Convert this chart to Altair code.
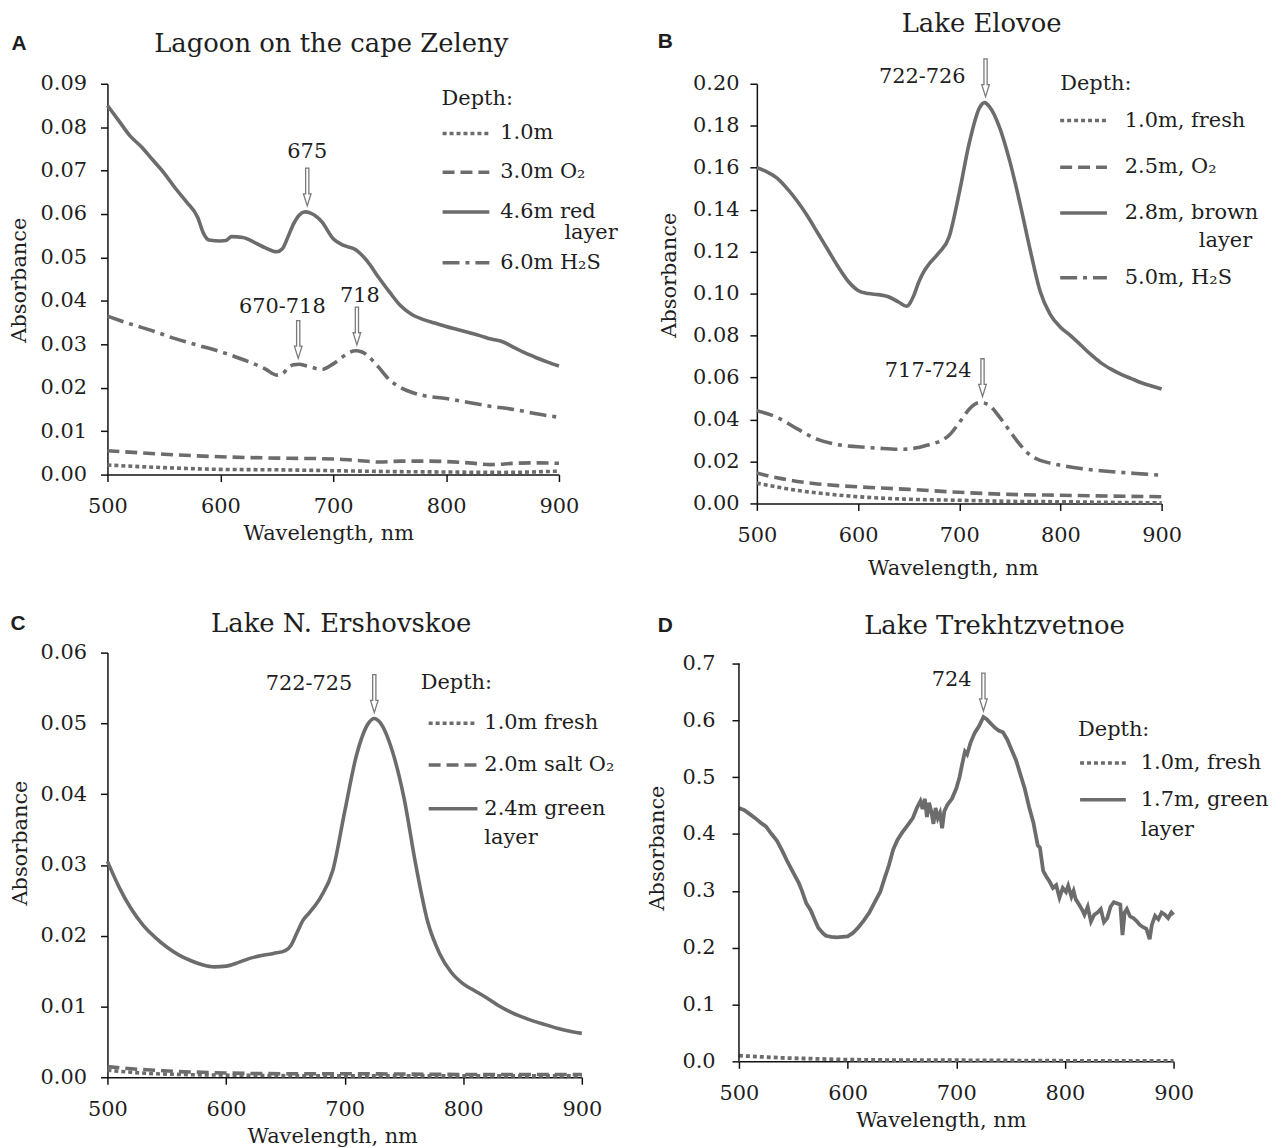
import altair as alt
import pandas as pd

SERIF = "DejaVu Serif"
SANS = "Liberation Sans"
GREY = "#6c6c6c"
INK = "#1e1e1e"

# ---------------- Panel A : Lagoon on the cape Zeleny ----------------
A_FRESH_WL = [500, 550, 600, 650, 700, 750, 800, 850, 900]
A_FRESH = [0.0022, 0.0016, 0.0012, 0.0011, 0.0009, 0.0007, 0.0006, 0.0005, 0.0008]
A_O2_WL = [500, 550, 600, 650, 700, 720, 740, 760, 780, 800, 820, 840, 860, 880, 900]
A_O2 = [0.0055, 0.0047, 0.0041, 0.0038, 0.0036, 0.0033, 0.0029, 0.0031, 0.0031,
        0.0030, 0.0027, 0.0023, 0.0026, 0.0027, 0.0026]
A_RED_WL = [500, 510, 520, 530, 540, 550, 560, 570, 580, 585, 590, 600, 605, 610, 620,
            630, 640, 650, 655, 660, 665, 670, 675, 680, 690, 700, 710, 720, 730, 740,
            750, 760, 770, 780, 790, 800, 810, 820, 830, 840, 850, 860, 870, 880, 890, 900]
A_RED = [0.0850, 0.0815, 0.0780, 0.0755, 0.0725, 0.0695, 0.0660, 0.0628, 0.0592, 0.0556,
         0.0540, 0.0538, 0.0539, 0.0548, 0.0546, 0.0535, 0.0522, 0.0513, 0.0520, 0.0548,
         0.0578, 0.0598, 0.0605, 0.0602, 0.0582, 0.0543, 0.0527, 0.0518, 0.0492, 0.0455,
         0.0420, 0.0388, 0.0368, 0.0357, 0.0349, 0.0341, 0.0334, 0.0327, 0.0320, 0.0312,
         0.0306, 0.0293, 0.0280, 0.0269, 0.0259, 0.0250]
A_H2S_WL = [500, 520, 540, 560, 580, 600, 620, 640, 650, 655, 660, 665, 670, 675, 680,
            690, 700, 710, 715, 720, 725, 730, 740, 750, 760, 770, 780, 800, 820, 840,
            860, 880, 900]
A_H2S = [0.0365, 0.0347, 0.0331, 0.0313, 0.0298, 0.0283, 0.0265, 0.0243, 0.0229, 0.0232,
         0.0246, 0.0253, 0.0254, 0.0251, 0.0248, 0.0242, 0.0255, 0.0274, 0.0282, 0.0285,
         0.0283, 0.0275, 0.0248, 0.0218, 0.0200, 0.0189, 0.0182, 0.0175, 0.0166, 0.0157,
         0.0150, 0.0140, 0.0132]
A_LABELS = ["1.0m", "3.0m O₂", "4.6m red", "6.0m H₂S"]
A_ANN_WL = [677, 669, 721]
A_ANN_Y = [0.0605, 0.0254, 0.0285]
A_ANN_TXT = ["675", "670-718", "718"]

# ---------------- Panel B : Lake Elovoe ----------------
B_FRESH_WL = [500, 520, 540, 560, 580, 600, 650, 700, 750, 800, 850, 900]
B_FRESH = [0.0097, 0.0078, 0.0062, 0.0050, 0.0040, 0.0032, 0.0020, 0.0015, 0.0010,
           0.0008, 0.0005, 0.0003]
B_O2_WL = [500, 520, 540, 560, 580, 600, 650, 700, 750, 800, 850, 900]
B_O2 = [0.0145, 0.0122, 0.0105, 0.0093, 0.0085, 0.0079, 0.0067, 0.0053, 0.0043, 0.0039,
        0.0035, 0.0032]
B_BROWN_WL = [500, 510, 520, 530, 540, 550, 560, 570, 580, 590, 600, 610, 620, 630, 640,
              648, 655, 660, 665, 670, 680, 690, 700, 710, 720, 725, 730, 740, 750, 760,
              770, 780, 790, 800, 810, 820, 830, 840, 850, 860, 870, 880, 890, 900]
B_BROWN = [0.160, 0.158, 0.155, 0.150, 0.144, 0.137, 0.129, 0.121, 0.113, 0.106, 0.1015,
           0.1000, 0.0995, 0.0985, 0.0960, 0.0940, 0.0990, 0.1055, 0.1105, 0.1140, 0.1195,
           0.1270, 0.1480, 0.1720, 0.1885, 0.1910, 0.1890, 0.1790, 0.1630, 0.1430, 0.1210,
           0.1010, 0.0900, 0.0840, 0.0800, 0.0755, 0.0710, 0.0670, 0.0640, 0.0615, 0.0595,
           0.0575, 0.0560, 0.0545]
B_H2S_WL = [500, 520, 540, 560, 580, 600, 620, 640, 650, 660, 670, 680, 690, 700, 710,
            715, 720, 725, 730, 740, 750, 760, 770, 780, 790, 800, 820, 840, 860, 880, 900]
B_H2S = [0.0442, 0.0410, 0.0355, 0.0305, 0.0280, 0.0270, 0.0263, 0.0258, 0.0259, 0.0267,
         0.0280, 0.0295, 0.0325, 0.0385, 0.0450, 0.0472, 0.0481, 0.0478, 0.0466, 0.0410,
         0.0345, 0.0280, 0.0230, 0.0205, 0.0192, 0.0182, 0.0166, 0.0156, 0.0148, 0.0141,
         0.0134]
B_LABELS = ["1.0m, fresh", "2.5m, O₂", "2.8m, brown", "5.0m, H₂S"]
B_ANN_WL = [726, 723]
B_ANN_Y = [0.191, 0.0481]
B_ANN_TXT = ["722-726", "717-724"]

# ---------------- Panel C : Lake N. Ershovskoe ----------------
C_FRESH_WL = [500, 520, 540, 560, 600, 700, 800, 900]
C_FRESH = [0.0010, 0.0007, 0.0005, 0.0004, 0.0003, 0.0002, 0.0002, 0.0002]
C_O2_WL = [500, 520, 540, 560, 580, 600, 650, 700, 800, 900]
C_O2 = [0.0015, 0.0012, 0.0010, 0.0008, 0.0007, 0.0006, 0.0005, 0.0005, 0.0004, 0.0004]
C_GREEN_WL = [500, 510, 520, 530, 540, 550, 560, 570, 580, 590, 600, 610, 620, 630, 640,
              650, 655, 660, 665, 670, 680, 690, 700, 710, 720, 725, 730, 740, 750, 760,
              770, 780, 790, 800, 810, 820, 830, 840, 850, 860, 870, 880, 890, 900]
C_GREEN = [0.0305, 0.0268, 0.0238, 0.0215, 0.0198, 0.0184, 0.0173, 0.0165, 0.0159, 0.0156,
           0.0157, 0.0162, 0.0168, 0.0172, 0.0175, 0.0179, 0.0187, 0.0205, 0.0222, 0.0232,
           0.0255, 0.0292, 0.0375, 0.0455, 0.0500, 0.0507, 0.0501, 0.0462, 0.0395, 0.0300,
           0.0220, 0.0175, 0.0148, 0.0132, 0.0122, 0.0112, 0.0101, 0.0092, 0.0085, 0.0079,
           0.0074, 0.0069, 0.0065, 0.0062]
C_LABELS = ["1.0m fresh", "2.0m salt O₂", "2.4m green"]
C_ANN_WL = [725]
C_ANN_Y = [0.0507]
C_ANN_TXT = ["722-725"]

# ---------------- Panel D : Lake Trekhtzvetnoe ----------------
D_FRESH_WL = [500, 520, 540, 560, 580, 600, 650, 700, 800, 900]
D_FRESH = [0.010, 0.008, 0.006, 0.005, 0.004, 0.003, 0.002, 0.002, 0.001, 0.001]
D_GREEN_WL = [500, 505, 510, 515, 520, 525, 530, 535, 540, 545, 550, 555, 558, 562, 566,
              570, 573, 577, 580, 585, 590, 595, 600, 605, 610, 615, 620, 625, 630, 634,
              638, 642, 646, 650, 655, 660, 664, 667, 669, 671, 673, 675, 677, 679, 681,
              683, 685, 687, 689, 692, 696, 700, 703, 706, 708, 710, 713, 717, 721, 725,
              728, 731, 735, 739, 743, 747, 751, 755, 759, 763, 767, 771, 775, 777, 780,
              783, 786, 789, 792, 795, 798, 801, 803, 806, 808, 810, 813, 816, 818, 821,
              824, 827, 830, 833, 836, 839, 842, 845, 848, 851, 853, 855, 857, 860, 863,
              866, 869, 872, 875, 878, 880, 883, 886, 889, 892, 895, 898, 900]
D_GREEN = [0.446, 0.442, 0.435, 0.428, 0.420, 0.413, 0.400, 0.388, 0.370, 0.350, 0.332,
           0.314, 0.300, 0.278, 0.266, 0.248, 0.235, 0.226, 0.221, 0.219, 0.218, 0.219,
           0.220, 0.226, 0.236, 0.248, 0.262, 0.280, 0.298, 0.322, 0.345, 0.373, 0.390,
           0.402, 0.415, 0.428, 0.447, 0.458, 0.444, 0.462, 0.430, 0.455, 0.440, 0.418,
           0.446, 0.428, 0.437, 0.410, 0.440, 0.452, 0.462, 0.480, 0.500, 0.528, 0.545,
           0.540, 0.560, 0.578, 0.590, 0.606, 0.602, 0.596, 0.588, 0.582, 0.579, 0.566,
           0.548, 0.530, 0.505, 0.480, 0.448, 0.420, 0.380, 0.376, 0.335, 0.325, 0.316,
           0.305, 0.310, 0.288, 0.305, 0.298, 0.309, 0.290, 0.300, 0.285, 0.276, 0.266,
           0.258, 0.272, 0.246, 0.258, 0.262, 0.268, 0.245, 0.252, 0.272, 0.280, 0.278,
           0.276, 0.222, 0.262, 0.268, 0.255, 0.252, 0.247, 0.240, 0.236, 0.233, 0.215,
           0.240, 0.256, 0.250, 0.262, 0.258, 0.252, 0.262, 0.258]
D_LABELS = ["1.0m, fresh", "1.7m, green"]
D_ANN_WL = [725]
D_ANN_Y = [0.606]
D_ANN_TXT = ["724"]

X_TICKS = [500, 600, 700, 800, 900]

# ---------------- styles ----------------
DOTTED = [4, 3]
DASHED = [12, 6]
SOLID = None
DASHDOT = [17, 6, 4, 6]
ARROW = "M-0.085,-1L0.085,-1L0.085,0.36L0.2,0.36L0,1L-0.2,0.36L-0.085,0.36Z"
ONE = pd.DataFrame({"k": [0]})


def txt(t, x, y, size=21, align="left", font=SERIF, weight="normal", baseline="middle"):
    return alt.Chart(ONE).mark_text(
        text=t, align=align, baseline=baseline, font=font, fontSize=size,
        fontWeight=weight, color=INK
    ).encode(x=alt.value(x), y=alt.value(y))


def sym(x1, x2, y, dash, width=3.6):
    kw = dict(color=GREY, strokeWidth=width)
    if dash is not None:
        kw["strokeDash"] = dash
    return alt.Chart(ONE).mark_rule(**kw).encode(
        x=alt.value(x1), x2=alt.value(x2), y=alt.value(y))


def panel(p):
    xenc = alt.X(
        "wl:Q", title="Wavelength, nm",
        scale=alt.Scale(domain=[500, 900], nice=False, zero=False),
        axis=alt.Axis(values=X_TICKS, format="d", labelPadding=p["xlp"],
                      labelFlush=False, labelOverlap=False,
                      titleX=p["xtitle"][0], titleY=p["xtitle"][1],
                      titleAlign="center", titleBaseline="middle"))
    yaxis = dict(values=p["yvals"], format=p["yfmt"], labelPadding=p["ylp"],
                 labelOverlap=False, titleX=p["ytitle"][0], titleY=p["ytitle"][1],
                 titleAngle=270, titleAlign="center", titleBaseline="middle")
    if not p.get("ydomainline", True):
        yaxis["domain"] = False
    yenc = alt.Y("abs:Q", title="Absorbance",
                 scale=alt.Scale(domain=p["ydom"], nice=False, zero=False),
                 axis=alt.Axis(**yaxis))

    layers = []
    for (wl, vals), dash in zip(p["curves"], p["dashes"]):
        kw = dict(color=GREY, strokeWidth=p.get("lw", 3.6), interpolate=p["interp"])
        if dash is not None:
            kw["strokeDash"] = dash
        layers.append(
            alt.Chart(pd.DataFrame({"wl": wl, "abs": vals}))
            .mark_line(**kw).encode(x=xenc, y=yenc))

    if not p.get("ydomainline", True):
        layers.append(
            alt.Chart(pd.DataFrame({"abs": [p["yvals"][0]], "abs2": [p["yvals"][-1]]}))
            .mark_rule(color="#111", strokeWidth=1.5)
            .encode(x=alt.value(0), y=yenc, y2="abs2:Q"))

    ann = pd.DataFrame({"wl": p["ann_wl"], "abs": p["ann_y"], "lab": p["ann_txt"]})
    layers.append(
        alt.Chart(ann).mark_point(shape=ARROW, size=1444, filled=True, fill="white",
                                  stroke="#7a7a7a", strokeWidth=1.3, opacity=1,
                                  yOffset=-25).encode(x=xenc, y=yenc))
    for i, (dx, dy, al) in enumerate(p["ann_off"]):
        layers.append(
            alt.Chart(ann.iloc[[i]]).mark_text(
                dx=dx, dy=dy, align=al, baseline="middle", font=SERIF, fontSize=21,
                color=INK).encode(x=xenc, y=yenc, text="lab:N"))

    # legend
    lg = p["legend"]
    layers.append(txt("Depth:", lg["x"], lg["head_y"]))
    for (label, ly, dash) in zip(p["labels"], lg["ys"], p["dashes"]):
        layers.append(sym(lg["sx"][0], lg["sx"][1], ly, dash))
        layers.append(txt(label, lg["tx"], ly))
    if "layer" in lg:
        lx, ly, la = lg["layer"]
        layers.append(txt("layer", lx, ly, align=la))

    # panel title and letter
    layers.append(txt(p["title"], p["title_pos"][0], p["title_pos"][1], size=26,
                      align="center"))
    layers.append(txt(p["letter"], p["letter_pos"][0], p["letter_pos"][1], size=21,
                      align="center", font=SANS, weight="bold"))

    return alt.layer(*layers).properties(width=p["w"], height=p["h"])


PA = dict(
    curves=[(A_FRESH_WL, A_FRESH), (A_O2_WL, A_O2), (A_RED_WL, A_RED), (A_H2S_WL, A_H2S)],
    labels=A_LABELS,
    dashes=[DOTTED, DASHED, SOLID, DASHDOT], interp="monotone",
    w=454, h=393, ydom=[0, 0.09], yvals=[round(i * 0.01, 2) for i in range(10)],
    yfmt=".2f", xlp=14, ylp=14, xtitle=(222, 59), ytitle=(-88, 197),
    ann_wl=A_ANN_WL, ann_y=A_ANN_Y, ann_txt=A_ANN_TXT,
    ann_off=[(0, -60, "center"), (-16, -58, "center"), (3, -55, "center")],
    legend=dict(x=336, head_y=15, sx=(337, 384), tx=395,
                ys=[50, 89, 129, 180], layer=(513, 150, "right")),
    title="Lagoon on the cape Zeleny", title_pos=(225, -40),
    letter="A", letter_pos=(-89, -40),
)

PB = dict(
    curves=[(B_FRESH_WL, B_FRESH), (B_O2_WL, B_O2), (B_BROWN_WL, B_BROWN),
            (B_H2S_WL, B_H2S)],
    labels=B_LABELS,
    dashes=[DOTTED, DASHED, SOLID, DASHDOT], interp="monotone",
    w=407, h=422, ydom=[0, 0.2], yvals=[round(i * 0.02, 2) for i in range(11)],
    yfmt=".2f", xlp=14, ylp=11, xtitle=(197, 65), ytitle=(-88, 192),
    ann_wl=B_ANN_WL, ann_y=B_ANN_Y, ann_txt=B_ANN_TXT,
    ann_off=[(-20, -26, "right"), (-11, -32, "right")],
    legend=dict(x=305, head_y=0, sx=(305, 352), tx=370,
                ys=[37, 84, 130, 195], layer=(498, 158, "right")),
    title="Lake Elovoe", title_pos=(226, -60),
    letter="B", letter_pos=(-92, -42),
)

PC = dict(
    curves=[(C_FRESH_WL, C_FRESH), (C_O2_WL, C_O2), (C_GREEN_WL, C_GREEN)],
    labels=C_LABELS,
    dashes=[DOTTED, DASHED, SOLID], interp="monotone",
    w=477, h=427, ydom=[0, 0.06], yvals=[round(i * 0.01, 2) for i in range(7)],
    yfmt=".2f", xlp=14, ylp=14, xtitle=(226, 60), ytitle=(-87, 191),
    ann_wl=C_ANN_WL, ann_y=C_ANN_Y, ann_txt=C_ANN_TXT,
    ann_off=[(-22, -35, "right")],
    legend=dict(x=315, head_y=31, sx=(323, 372), tx=379,
                ys=[71, 113, 157], layer=(379, 186, "left")),
    title="Lake N. Ershovskoe", title_pos=(235, -29),
    letter="C", letter_pos=(-90, -29),
)

PD = dict(
    curves=[(D_FRESH_WL, D_FRESH), (D_GREEN_WL, D_GREEN)],
    labels=D_LABELS,
    dashes=[DOTTED, SOLID], interp="linear", lw=3.8,
    w=437, h=411, ydom=[0, 0.71925], yvals=[round(i * 0.1, 1) for i in range(8)],
    yfmt=".1f", xlp=14, ylp=17, xtitle=(203, 60), ytitle=(-82, 196),
    ydomainline=False,
    ann_wl=D_ANN_WL, ann_y=D_ANN_Y, ann_txt=D_ANN_TXT,
    ann_off=[(-12, -37, "right")],
    legend=dict(x=341, head_y=78, sx=(343, 389), tx=404,
                ys=[111, 148], layer=(404, 178, "left")),
    title="Lake Trekhtzvetnoe", title_pos=(257, -27),
    letter="D", letter_pos=(-74, -27),
)

row1 = alt.hconcat(panel(PA), panel(PB), spacing=199, bounds="flush")
row2 = alt.hconcat(panel(PC), panel(PD), spacing=158, bounds="flush")

chart = alt.vconcat(row1, row2, spacing=33).properties(
    padding={"left": 1, "top": 0, "right": 5, "bottom": 5}
).configure_axis(
    domainColor="#111", domainWidth=1.5, tickColor="#111", tickWidth=1.5, tickSize=7,
    labelFont=SERIF, labelFontSize=21, labelColor=INK,
    titleFont=SERIF, titleFontSize=21, titleFontWeight="normal", titleColor=INK,
    grid=False,
).configure_view(stroke=None)

chart.save("out.html", embed_options={"renderer": "svg", "actions": False})
